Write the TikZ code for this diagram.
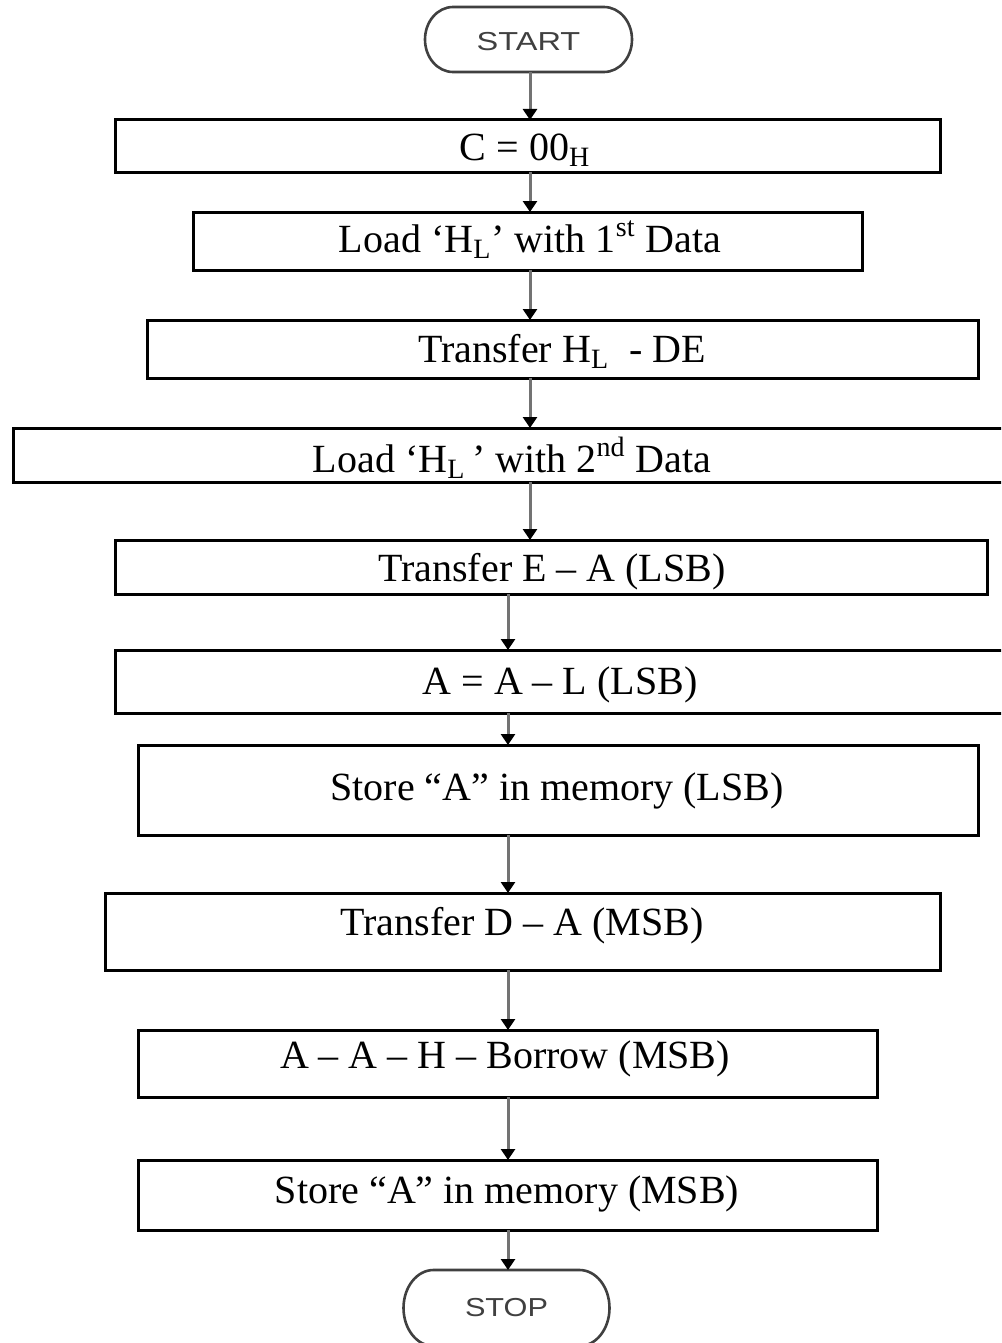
\documentclass[tikz,border=0pt]{standalone}
\usepackage{fontspec}
\setmainfont{Liberation Serif}
\newfontfamily\termfont{Liberation Sans}
\usetikzlibrary{arrows.meta}
\begin{document}
\begin{tikzpicture}[x=0.5pt,y=-0.5pt,
  box/.style={draw=black,line width=1.5pt,inner sep=0pt,outer sep=0pt},
  termanchor/.style={inner sep=0pt,outer sep=0pt,minimum width=#1},
  termline/.style={draw=black!75,line width=1.3pt},
  txt/.style={anchor=base,inner sep=0pt,font=\fontsize{20pt}{24pt}\selectfont},
  termtxt/.style={inner sep=0pt,text=black!75,font=\termfont\fontsize{13pt}{15pt}\selectfont},
  arr/.style={draw=black!55,line width=1.5pt,-{Triangle[width=7pt,length=5.5pt,color=black]}}]
\clip (0,0) rectangle (1001,1343);
\fill[white] (0,0) rectangle (1001,1343);
\coordinate (colA) at (530,0);
\coordinate (colB) at (508,0);
% terminals
\node[termanchor=103.5pt,minimum height=32.5pt] (start) at (528.5,39.5) {};
\draw[termline] ([xshift=-37.75pt]start.north) -- ([xshift=37.75pt]start.north)
  arc[start angle=90,end angle=-90,x radius=14pt,y radius=16.25pt]
  -- ([xshift=-37.75pt]start.south)
  arc[start angle=270,end angle=90,x radius=14pt,y radius=16.25pt] -- cycle;
\node[termtxt] (tstart) at (528.5,42) {\scalebox{1.25}[1]{START}};
\node[termanchor=101.5pt,minimum height=38pt] (stop) at (506.5,1308) {};
\draw[termline] ([xshift=-36.5pt]stop.north) -- ([xshift=36.5pt]stop.north)
  arc[start angle=90,end angle=-90,x radius=15pt,y radius=19pt]
  -- ([xshift=-36.5pt]stop.south)
  arc[start angle=270,end angle=90,x radius=15pt,y radius=19pt] -- cycle;
\node[termtxt] (tstop) at (506.5,1308) {\scalebox{1.18}[1]{STOP}};
% process boxes
\node[box,minimum width=412.5pt,minimum height=26pt] (b1) at (527.5,146) {};
\node[box,minimum width=334.5pt,minimum height=29pt] (b2) at (527.5,241) {};
\node[box,minimum width=415.5pt,minimum height=29pt] (b3) at (562.5,349) {};
\node[box,minimum width=513.5pt,minimum height=27pt] (b4) at (526.5,455) {};
\node[box,minimum width=436pt,minimum height=27pt] (b5) at (551,567) {};
\node[box,minimum width=457.5pt,minimum height=31.5pt] (b6) at (572.5,681.5) {};
\node[box,minimum width=420pt,minimum height=45pt] (b7) at (558,790) {};
\node[box,minimum width=417.5pt,minimum height=38.5pt] (b8) at (522.5,931.5) {};
\node[box,minimum width=369.5pt,minimum height=33.5pt] (b9) at (507.5,1063.5) {};
\node[box,minimum width=369.5pt,minimum height=35pt] (b10) at (507.5,1195) {};
% texts
\node[txt] (t1) at (525,160) {C = 00\textsubscript{H}};
\node[txt] (t2) at (530,252) {Load ‘H\textsubscript{L}’ with 1\textsuperscript{st} Data};
\node[txt] (t3) at (562,362) {Transfer H\textsubscript{L}\ \ - DE};
\node[txt] (t4) at (512,472) {Load ‘H\textsubscript{L}\,’ with 2\textsuperscript{nd} Data};
\node[txt] (t5) at (552,581) {Transfer E – A (LSB)};
\node[txt] (t6) at (560,694) {A = A – L (LSB)};
\node[txt] (t7) at (557,800) {Store “A” in memory (LSB)};
\node[txt] (t8) at (522,935) {Transfer D – A (MSB)};
\node[txt] (t9) at (505,1068) {A – A – H – Borrow (MSB)};
\node[txt] (t10) at (507,1203) {Store “A” in memory (MSB)};
% connectors
\draw[arr] (start.south -| colA) -- (b1.north -| colA);
\draw[arr] (b1.south -| colA) -- (b2.north -| colA);
\draw[arr] (b2.south -| colA) -- (b3.north -| colA);
\draw[arr] (b3.south -| colA) -- (b4.north -| colA);
\draw[arr] (b4.south -| colA) -- (b5.north -| colA);
\draw[arr] (b5.south -| colB) -- (b6.north -| colB);
\draw[arr] (b6.south -| colB) -- (b7.north -| colB);
\draw[arr] (b7.south -| colB) -- (b8.north -| colB);
\draw[arr] (b8.south -| colB) -- (b9.north -| colB);
\draw[arr] (b9.south -| colB) -- (b10.north -| colB);
\draw[arr] (b10.south -| colB) -- (stop.north -| colB);
\end{tikzpicture}
\end{document}
